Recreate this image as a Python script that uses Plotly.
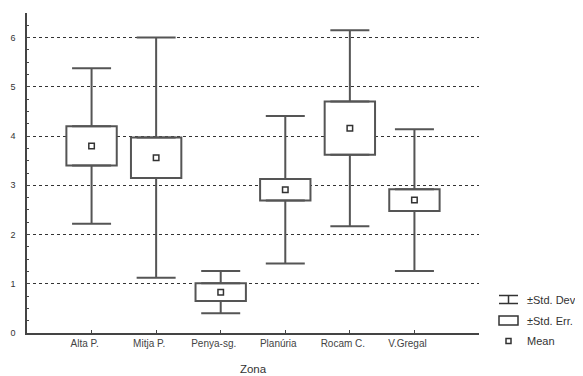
import plotly.graph_objects as go

categories = ["Alta P.", "Mitja P.", "Penya-sg.", "Planúria", "Rocam C.", "V.Gregal"]
means = [3.80, 3.56, 0.83, 2.91, 4.16, 2.70]
std_err = [0.40, 0.41, 0.18, 0.22, 0.54, 0.22]
std_dev = [1.58, 2.44, 0.43, 1.50, 1.99, 1.44]
y_ticks = [0, 1, 2, 3, 4, 5, 6]

idx = list(range(len(categories)))
box_base = [m - s for m, s in zip(means, std_err)]
box_top = [m + s for m, s in zip(means, std_err)]
box_h = [2 * s for s in std_err]
whisk = [d - s for d, s in zip(std_dev, std_err)]
zeros = [0] * len(idx)

# the page has an 8px body margin
OFF = 8
W, H = 583 - OFF, 376 - OFF
PL, PR, PT, PB = 27, 479, 13, 333  # plot area in page pixels
L, T = PL - OFF, PT - OFF
R, B = 583 - PR, 376 - PB


def px(x):
    return (x - PL) / (PR - PL)


def py(y):
    return (PB - y) / (PB - PT)


LINE = "#555555"

fig = go.Figure()
fig.add_trace(go.Scatter(
    x=idx, y=box_top, mode="markers", marker=dict(size=1, color="rgba(0,0,0,0)"),
    error_y=dict(type="data", symmetric=False, array=whisk, arrayminus=zeros,
                 color=LINE, thickness=2, width=19.5),
    showlegend=False, hoverinfo="skip"))
fig.add_trace(go.Scatter(
    x=idx, y=box_base, mode="markers", marker=dict(size=1, color="rgba(0,0,0,0)"),
    error_y=dict(type="data", symmetric=False, array=zeros, arrayminus=whisk,
                 color=LINE, thickness=2, width=19.5),
    showlegend=False, hoverinfo="skip"))
fig.add_trace(go.Bar(
    x=idx, y=box_h, base=box_base, width=0.78,
    marker=dict(color="white", line=dict(color=LINE, width=2)),
    showlegend=False, hoverinfo="skip"))
fig.add_trace(go.Scatter(
    x=idx, y=means, mode="markers",
    marker=dict(symbol="square", size=5.5, color="white", line=dict(color="#333333", width=1.5)),
    showlegend=False))

shapes = []
sx0, sx1, sxc = 499, 518, 508.5
lc = dict(color="#333", width=1.5)
shapes += [
    dict(type="line", xref="paper", yref="paper", x0=px(sx0), x1=px(sx1), y0=py(295.5), y1=py(295.5), line=lc),
    dict(type="line", xref="paper", yref="paper", x0=px(sxc), x1=px(sxc), y0=py(295.5), y1=py(303.5), line=lc),
    dict(type="line", xref="paper", yref="paper", x0=px(sx0), x1=px(sx1), y0=py(303.5), y1=py(303.5), line=lc),
    dict(type="rect", xref="paper", yref="paper", x0=px(sx0), x1=px(sx1), y0=py(316), y1=py(325),
         line=lc, fillcolor="white"),
    dict(type="rect", xref="paper", yref="paper", x0=px(sxc - 2.5), x1=px(sxc + 2.5), y0=py(338.5), y1=py(343.5),
         line=lc, fillcolor="white"),
]
annotations = []
for label, yy in [("±Std. Dev.", 299.5), ("±Std. Err.", 320.5), ("Mean", 341)]:
    annotations.append(dict(text=label, xref="paper", yref="paper", x=px(525), y=py(yy),
                            xanchor="left", yanchor="middle", showarrow=False,
                            font=dict(size=11, color="#333")))

fig.update_layout(
    width=W, height=H,
    margin=dict(l=L, r=R, t=T, b=B, autoexpand=False),
    paper_bgcolor="white", plot_bgcolor="white",
    font=dict(family="Liberation Sans, Arial, sans-serif", color="#444"),
    shapes=shapes, annotations=annotations,
    xaxis=dict(range=[-1, 6], tickvals=idx + [6], ticktext=categories + [""], showgrid=False, zeroline=False,
               showline=True, linecolor="#444", linewidth=1.5, ticks="inside", ticklen=3,
               tickcolor="#444", tickfont=dict(size=10, color="#444"), ticklabelshift=-7,
               title=dict(text="Zona", font=dict(size=11.5, color="#333"), standoff=17)),
    yaxis=dict(range=[0, 6.5], tickvals=y_ticks, showgrid=True, gridcolor="#333",
               griddash="dot", gridwidth=1, zeroline=False,
               showline=True, linecolor="#444", linewidth=1.5, ticks="inside", ticklen=3,
               tickcolor="#444", tickfont=dict(size=9, color="#333"), ticklabelstandoff=8,
               minor=dict(dtick=0.25, ticks="inside", ticklen=2, tickcolor="#444", showgrid=False)),
)

fig.write_html("out.html")
